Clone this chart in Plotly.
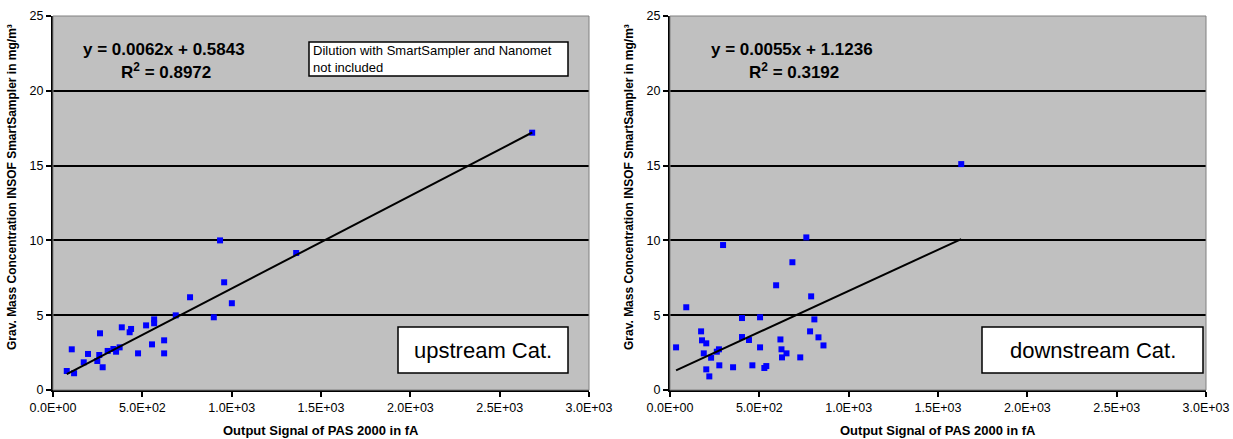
import plotly.graph_objects as go

# ---- data -------------------------------------------------------------
# upstream of the catalyst: PAS 2000 signal (fA) vs gravimetric mass (mg/m³)
up_signal = [77, 118, 105, 172, 196, 248, 259, 263, 278, 306, 338, 353, 373,
             385, 429, 437, 476, 521, 554, 566, 566, 622, 622, 687, 767, 900,
             935, 958, 1001, 1361, 2682]
up_mass = [1.27, 1.12, 2.72, 1.85, 2.41, 1.94, 2.34, 3.79, 1.52, 2.61, 2.74,
           2.56, 2.85, 4.19, 3.86, 4.08, 2.45, 4.32, 3.05, 4.72, 4.46, 3.32,
           2.45, 4.99, 6.20, 4.86, 10.0, 7.20, 5.80, 9.16, 17.2]

# downstream of the catalyst
down_signal = [34, 91, 174, 179, 189, 203, 203, 220, 230, 262, 274, 276, 297,
               353, 403, 403, 442, 461, 504, 504, 528, 539, 594, 618, 624, 627,
               652, 685, 729, 763, 784, 790, 808, 831, 859, 1630]
down_mass = [2.85, 5.53, 3.92, 3.32, 2.45, 3.12, 1.38, 0.91, 2.16, 2.56, 2.72,
             1.65, 9.69, 1.52, 4.81, 3.54, 3.34, 1.65, 4.86, 2.85, 1.47, 1.60,
             7.00, 3.38, 2.72, 2.18, 2.45, 8.54, 2.18, 10.2, 3.92, 6.26, 4.72,
             3.52, 2.98, 15.1]

# linear fits (slope, intercept, R²) as printed on the charts
up_fit = (0.0062, 0.5843, 0.8972)
down_fit = (0.0055, 1.1236, 0.3192)

x_tick_vals = [0, 500, 1000, 1500, 2000, 2500, 3000]
x_tick_text = ["0.0E+00", "5.0E+02", "1.0E+03", "1.5E+03", "2.0E+03",
               "2.5E+03", "3.0E+03"]
y_tick_vals = [0, 5, 10, 15, 20, 25]

x_title = "Output Signal of PAS 2000 in fA"
y_title = "Grav. Mass Concentration INSOF SmartSampler in mg/m³"
note_text = "Dilution with SmartSampler and Nanomet<br>not included"
panel_labels = ["upstream Cat.", "downstream Cat."]

# ---- layout helpers ---------------------------------------------------
W, H = 1233, 439
FONT = "Arial, Liberation Sans, sans-serif"


def px(x):
    return x / W


def py(y):
    return 1 - y / H


PLOT_TOP, PLOT_BOTTOM = 16, 390
PANELS = [(53, 589), (670, 1206)]

fig = go.Figure()

datasets = [(up_signal, up_mass, up_fit), (down_signal, down_mass, down_fit)]
for i, (xs, ys, fit) in enumerate(datasets):
    xa = "x" if i == 0 else "x2"
    ya = "y" if i == 0 else "y2"
    fig.add_trace(go.Scatter(
        x=xs, y=ys, mode="markers", xaxis=xa, yaxis=ya, showlegend=False,
        marker=dict(symbol="square", size=6, color="#0000FF",
                    line=dict(width=0)),
    ))
    slope, intercept, _ = fit
    x_line = [min(xs), max(xs)]
    fig.add_trace(go.Scatter(
        x=x_line, y=[slope * v + intercept for v in x_line], mode="lines",
        xaxis=xa, yaxis=ya, showlegend=False,
        line=dict(color="black", width=2),
    ))

axis_common = dict(
    showline=True, linecolor="black", linewidth=2,
    ticks="outside", ticklen=5, tickwidth=1.5, tickcolor="black",
    tickfont=dict(family=FONT, size=12.5, color="black"),
    mirror=False, zeroline=False, automargin=False,
)

layout = dict(
    width=W, height=H, margin=dict(l=0, r=0, t=0, b=0, autoexpand=False),
    paper_bgcolor="white", plot_bgcolor="#C0C0C0",
    font=dict(family=FONT, color="black"),
)

for i, (x0, x1) in enumerate(PANELS):
    suffix = "" if i == 0 else "2"
    layout["xaxis" + suffix] = dict(
        axis_common, domain=[px(x0), px(x1)], range=[0, 3000],
        tickvals=x_tick_vals, ticktext=x_tick_text, showgrid=False,
        anchor="y" + suffix,
    )
    layout["yaxis" + suffix] = dict(
        axis_common, domain=[py(PLOT_BOTTOM), py(PLOT_TOP)], range=[0, 25],
        tickvals=y_tick_vals, showgrid=True, gridcolor="black", gridwidth=1.5,
        anchor="x" + suffix,
    )

fig.update_layout(**layout)


def label(text, x, y, size, bold=False, **kw):
    opts = dict(text=f"<b>{text}</b>" if bold else text,
                xref="paper", yref="paper", x=px(x), y=py(y),
                xanchor="center", yanchor="middle", showarrow=False,
                font=dict(family=FONT, size=size, color="black"))
    opts.update(kw)
    return opts


shapes = []
annotations = []
for i, (x0, x1) in enumerate(PANELS):
    # plot-area frame
    shapes.append(dict(type="rect", xref="paper", yref="paper",
                       x0=px(x0), x1=px(x1), y0=py(PLOT_BOTTOM), y1=py(PLOT_TOP),
                       line=dict(color="#808080", width=1), layer="above"))
    # axis titles
    annotations.append(label(x_title, (x0 + x1) / 2, 430, 13, bold=True))
    annotations.append(label(y_title, x0 - 41, 187, 12, bold=True,
                             textangle=-90))

# regression equations
for (slope, intercept, r2), cx in [(up_fit, 164), (down_fit, 792)]:
    annotations.append(label(f"y = {slope:.4f}x + {intercept:.4f}",
                             cx, 49, 17, bold=True))
    annotations.append(label(f"R<sup>2</sup> = {r2:.4f}",
                             cx + 2, 71, 17, bold=True))

# note box on the upstream panel
shapes.append(dict(type="rect", xref="paper", yref="paper",
                   x0=px(309), x1=px(568), y0=py(76), y1=py(42),
                   fillcolor="white", line=dict(color="black", width=1.5),
                   layer="above"))
annotations.append(label(note_text, 311, 41, 13, xanchor="left",
                         yanchor="top", align="left"))

# panel label boxes
for text, (bx0, bx1) in zip(panel_labels, [(398, 568), (982, 1203)]):
    shapes.append(dict(type="rect", xref="paper", yref="paper",
                       x0=px(bx0), x1=px(bx1), y0=py(373), y1=py(327),
                       fillcolor="white", line=dict(color="black", width=1.5),
                       layer="above"))
    annotations.append(label(text, (bx0 + bx1) / 2, 350, 22))

fig.update_layout(shapes=shapes, annotations=annotations)

fig.write_html("out.html")
